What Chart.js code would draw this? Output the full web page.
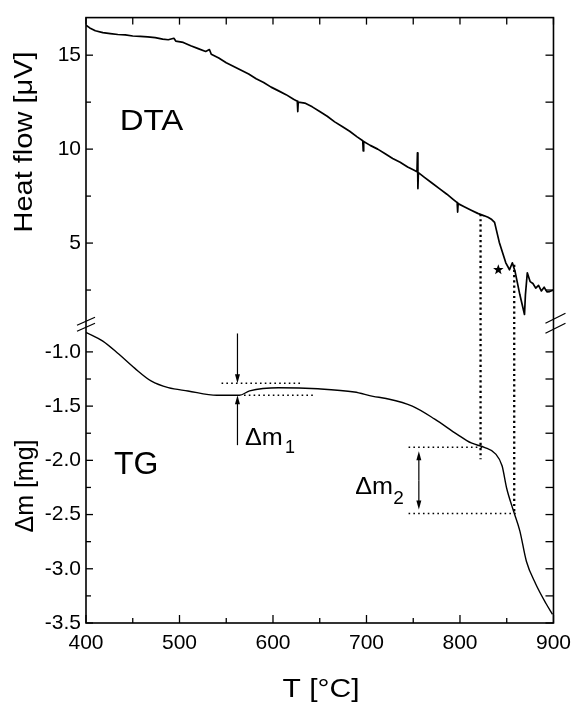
<!DOCTYPE html>
<html><head><meta charset="utf-8">
<script src="https://cdn.jsdelivr.net/npm/chart.js@4.4.1/dist/chart.umd.min.js"></script>
<style>html,body{margin:0;padding:0;background:#fff}#wrap{width:579px;height:707px;position:relative}</style>
</head><body><div id="wrap"><canvas id="c" width="579" height="707"></canvas></div>
<script>
// ---- data ----
const dtaT = [400,404,410,418,426,434,442,450,458,466,474,482,488,494,496,504,512,520,528,532,534,542,550,558,566,574,582,590,598,606,614,622,626,626.5,627,634,642,650,658,666,674,682,690,696,696.5,697,704,712,720,728,736,744,750,754,754.5,755,755.5,762,770,778,786,792,797,797.5,798,804,812,819,826,830,834,837,842,849,853,856,859,864,869,870,872,875,878,881,884,887,890,893,896,900];
const dtaV = [16.6,16.45,16.3,16.2,16.15,16.1,16.08,16.02,16.0,15.97,15.93,15.85,15.82,15.9,15.75,15.68,15.5,15.35,15.2,15.3,15.05,14.85,14.6,14.4,14.2,14.0,13.75,13.55,13.3,13.1,12.9,12.65,12.55,12.0,12.5,12.45,12.25,12.0,11.75,11.45,11.2,10.95,10.65,10.45,9.9,10.4,10.2,10.0,9.75,9.5,9.3,9.05,8.9,8.8,9.8,7.9,8.75,8.5,8.2,7.9,7.6,7.35,7.15,6.65,7.1,6.95,6.75,6.58,6.45,6.37,6.25,6.1,5.05,3.95,3.58,3.95,3.47,2.26,1.2,2.26,3.42,2.95,2.85,2.6,2.75,2.45,2.65,2.4,2.42,2.5];
const tgT = [400,418,435,452,470,488,509,540,564,575,606,648,687,707,721,749,773,797,812,826,838,845,850,857,864,871,881,892,899];
const tgV = [-0.82,-0.90,-1.02,-1.15,-1.27,-1.33,-1.36,-1.40,-1.40,-1.36,-1.33,-1.34,-1.37,-1.41,-1.43,-1.50,-1.62,-1.76,-1.84,-1.88,-1.94,-2.05,-2.26,-2.46,-2.65,-2.93,-3.14,-3.32,-3.42];
const xTicks = [400,500,600,700,800,900];
const xMinorTicks = [450,550,650,750,850];
const dtaTicks = [5,10,15];
const dtaMinorTicks = [2.5,7.5,12.5];
const tgTicks = [-1.0,-1.5,-2.0,-2.5,-3.0,-3.5];
const tgMinorTicks = [-1.25,-1.75,-2.25,-2.75,-3.25];

const FONT = "'Liberation Sans', Arial, sans-serif";

function stext(ctx, txt, x, y, size, sx, rot, align, base){
  ctx.save();
  ctx.translate(x, y);
  if (rot) ctx.rotate(rot);
  ctx.scale(sx, 1);
  ctx.font = size + 'px ' + FONT;
  ctx.textAlign = align || 'left';
  ctx.textBaseline = base || 'alphabetic';
  ctx.fillText(txt, 0, 0);
  ctx.restore();
}

const annot = {
  id: 'annot',
  afterDatasetsDraw(chart){
    const ctx = chart.ctx, a = chart.chartArea;
    const X = chart.scales.x, YD = chart.scales.yDTA, YT = chart.scales.yTG;
    const px = v => X.getPixelForValue(v);
    const pd = v => YD.getPixelForValue(v);
    const pt = v => YT.getPixelForValue(v);
    ctx.save();
    ctx.strokeStyle = '#000'; ctx.fillStyle = '#000';
    const seg = (x1,y1,x2,y2) => { ctx.beginPath(); ctx.moveTo(x1,y1); ctx.lineTo(x2,y2); ctx.stroke(); };
    // frame
    ctx.lineWidth = 1.6;
    ctx.strokeRect(a.left, a.top, a.right - a.left, a.bottom - a.top);
    // inward ticks
    ctx.lineWidth = 1.3;
    xTicks.forEach(v => { const p = px(v); seg(p, a.bottom, p, a.bottom - 8); seg(p, a.top, p, a.top + 7); });
    xMinorTicks.forEach(v => { const p = px(v); seg(p, a.bottom, p, a.bottom - 5); seg(p, a.top, p, a.top + 7); });
    dtaTicks.forEach(v => { const p = pd(v); seg(a.left, p, a.left + 7, p); seg(a.right, p, a.right - 8, p); });
    dtaMinorTicks.forEach(v => { const p = pd(v); seg(a.left, p, a.left + 5, p); seg(a.right, p, a.right - 8, p); });
    tgTicks.forEach(v => { const p = pt(v); seg(a.left, p, a.left + 7, p); seg(a.right, p, a.right - 8, p); });
    tgMinorTicks.forEach(v => { const p = pt(v); seg(a.left, p, a.left + 5, p); seg(a.right, p, a.right - 8, p); });
    // axis breaks
    const yb = YD.bottom;
    ctx.lineWidth = 1.3;
    seg(a.left - 9, yb + 1, a.left + 9, yb - 7);
    seg(a.left - 9, yb + 7, a.left + 9, yb - 1);
    seg(a.right - 8, yb - 1, a.right + 12, yb - 11);
    seg(a.right - 8, yb + 9, a.right + 12, yb - 1);
    // dotted guide lines
    ctx.setLineDash([1.6, 3.2]);
    ctx.lineWidth = 1.5;
    seg(px(545), pt(-1.29), px(630), pt(-1.29));
    seg(px(569), pt(-1.40), px(643), pt(-1.40));
    seg(px(745), pt(-1.88), px(826), pt(-1.88));
    seg(px(745), pt(-2.49), px(860), pt(-2.49));
    ctx.lineWidth = 2.3;
    ctx.setLineDash([2.2, 3]);
    seg(px(822), pd(6.55), px(822), pt(-1.99));
    seg(px(858), pd(3.85), px(858), pt(-2.48));
    ctx.setLineDash([]);
    // arrows
    const arrow = (x, y0, y1) => {
      ctx.lineWidth = 1.2;
      const dir = Math.sign(y1 - y0);
      seg(x, y0, x, y1 - dir * 6);
      ctx.beginPath(); ctx.moveTo(x, y1); ctx.lineTo(x - 2.5, y1 - dir * 9); ctx.lineTo(x + 2.5, y1 - dir * 9); ctx.closePath(); ctx.fill();
    };
    arrow(px(562), pt(-0.83), pt(-1.29));
    arrow(px(562), pt(-1.86), pt(-1.40));
    const xm2 = px(756), ym2a = pt(-1.88) + 4, ym2b = pt(-2.49) - 4;
    arrow(xm2, (ym2a + ym2b) / 2, ym2a);
    arrow(xm2, (ym2a + ym2b) / 2, ym2b);
    // star
    const sx0 = px(841), sy0 = pd(3.58), R = 5.5, r = 2.3;
    ctx.beginPath();
    for (let i = 0; i < 10; i++) {
      const ang = -Math.PI / 2 + i * Math.PI / 5, rr = i % 2 ? r : R;
      const xx = sx0 + rr * Math.cos(ang), yy = sy0 + rr * Math.sin(ang);
      i ? ctx.lineTo(xx, yy) : ctx.moveTo(xx, yy);
    }
    ctx.closePath(); ctx.fill();
    // panel labels
    stext(ctx, 'DTA', px(436), pd(11.0), 30, 1.1);
    stext(ctx, 'TG', px(430), pt(-2.13), 32, 1.0);
    // delta m labels
    let x1 = px(570), y1 = pt(-1.855);
    stext(ctx, 'Δm', x1, y1, 24, 1.05);
    stext(ctx, '1', x1 + 40, y1 + 8, 18, 1.0);
    let x2 = px(688), y2 = pt(-2.31);
    stext(ctx, 'Δm', x2, y2, 24, 1.05);
    stext(ctx, '2', x2 + 38, y2 + 10, 19, 1.0);
    // axis titles
    stext(ctx, 'Heat flow [μV]', 32, 142, 25, 1.16, -Math.PI / 2, 'center');
    stext(ctx, 'Δm [mg]', 33, 486, 25, 1.0, -Math.PI / 2, 'center');
    stext(ctx, 'T [°C]', 321, 697, 25, 1.2, 0, 'center');
    ctx.restore();
  }
};

const tickFont = { family: FONT, size: 21 };
new Chart(document.getElementById('c'), {
  type: 'line',
  data: {
    datasets: [
      { label: 'DTA', data: dtaT.map((t, i) => ({ x: t, y: dtaV[i] })), yAxisID: 'yDTA', borderColor: '#000', borderWidth: 1.7, pointRadius: 0, tension: 0, borderJoinStyle: 'round' },
      { label: 'TG', data: tgT.map((t, i) => ({ x: t, y: tgV[i] })), yAxisID: 'yTG', borderColor: '#000', borderWidth: 1.4, pointRadius: 0, cubicInterpolationMode: 'monotone' }
    ]
  },
  options: {
    responsive: false, animation: false, devicePixelRatio: 1,
    layout: { padding: { top: 9, right: 15, left: 0, bottom: 0 } },
    plugins: { legend: { display: false }, tooltip: { enabled: false } },
    scales: {
      x: {
        type: 'linear', min: 400, max: 900,
        afterBuildTicks: s => { s.ticks = xTicks.map(v => ({ value: v })); },
        afterFit: s => { s.height = 84; },
        ticks: { font: tickFont, color: '#000', padding: 8, maxRotation: 0, autoSkip: false, callback: v => String(v) },
        grid: { display: false, drawTicks: false }, border: { display: false }
      },
      yTG: {
        type: 'linear', position: 'left', stack: 'y', stackWeight: 303, min: -3.5, max: -0.745,
        afterBuildTicks: s => { s.ticks = tgTicks.map(v => ({ value: v })); },
        afterFit: s => { s.width = 86; },
        ticks: { font: tickFont, color: '#000', padding: 5, autoSkip: false, callback: v => Number(v).toFixed(1) },
        grid: { display: false, drawTicks: false }, border: { display: false }
      },
      yDTA: {
        type: 'linear', position: 'left', stack: 'y', stackWeight: 311, min: 0.68, max: 17,
        afterBuildTicks: s => { s.ticks = dtaTicks.map(v => ({ value: v })); },
        afterFit: s => { s.width = 86; },
        ticks: { font: tickFont, color: '#000', padding: 5, autoSkip: false, callback: v => String(v) },
        grid: { display: false, drawTicks: false }, border: { display: false }
      }
    }
  },
  plugins: [annot]
});
</script></body></html>
